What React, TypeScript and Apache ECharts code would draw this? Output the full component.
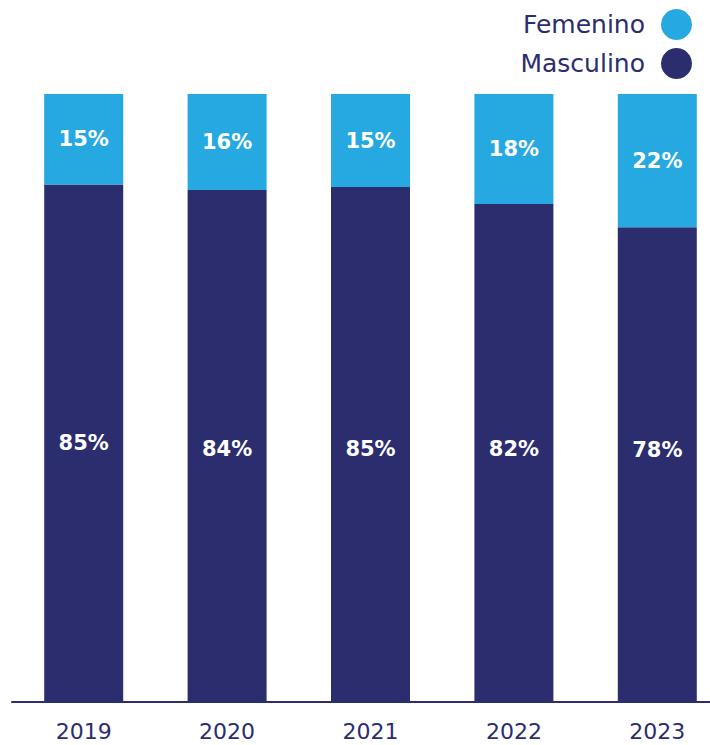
import React, { useEffect, useRef } from "react";
import * as echarts from "echarts";

const categories = ["2019", "2020", "2021", "2022", "2023"];
const femenino = [14.9, 15.8, 15.3, 18.1, 21.9];
const masculino = [85.1, 84.2, 84.7, 81.9, 78.1];
// vertical nudge of the Masculino labels (style only)
const masculinoLabelShift = [0, 3, 4, -4, -15];

const NAVY = "#2B2D6F";
const BLUE = "#25A9E0";

export default function App() {
  const ref = useRef<HTMLDivElement>(null);
  useEffect(() => {
    if (!ref.current) return;
    const chart = echarts.init(ref.current, undefined, { renderer: "svg" });
    const label = {
      show: true,
      position: "inside",
      color: "#ffffff",
      fontFamily: "DejaVu Sans",
      fontWeight: "bold",
      fontSize: 21,
      formatter: (p: any) => Math.round(p.value) + "%",
    };
    chart.setOption({
      animation: false,
      legend: {
        data: ["Femenino", "Masculino"],
        orient: "vertical",
        right: 32,
        top: 4,
        align: "right",
        icon: "circle",
        itemWidth: 31,
        itemHeight: 31,
        itemGap: 8,
        textStyle: {
          color: NAVY,
          fontFamily: "DejaVu Sans",
          fontSize: 25,
          padding: [0, 11, 0, 0],
        },
      },
      grid: { left: 12, right: 0, top: 94, bottom: 43, containLabel: false },
      xAxis: {
        type: "category",
        data: categories,
        axisLine: { lineStyle: { color: NAVY, width: 2 } },
        axisTick: { show: false },
        axisLabel: {
          color: NAVY,
          fontFamily: "DejaVu Sans",
          fontSize: 22,
          margin: 18,
        },
      },
      yAxis: {
        type: "value",
        min: 0,
        max: 100,
        show: false,
        splitLine: { show: false },
      },
      series: [
        {
          name: "Masculino",
          type: "bar",
          stack: "total",
          data: masculino.map((v, i) => ({
            value: v,
            label: { offset: [0, masculinoLabelShift[i]] },
          })),
          barWidth: 79,
          itemStyle: { color: NAVY },
          label,
        },
        {
          name: "Femenino",
          type: "bar",
          stack: "total",
          data: femenino,
          barWidth: 79,
          itemStyle: { color: BLUE },
          label,
        },
      ],
    });
    return () => chart.dispose();
  }, []);
  return (
    <div
      style={{
        position: "absolute",
        left: 0,
        top: 0,
        width: 710,
        height: 745,
        overflow: "hidden",
        background: "#fff",
      }}
    >
      <div ref={ref} style={{ width: 729, height: 745 }} />
    </div>
  );
}
